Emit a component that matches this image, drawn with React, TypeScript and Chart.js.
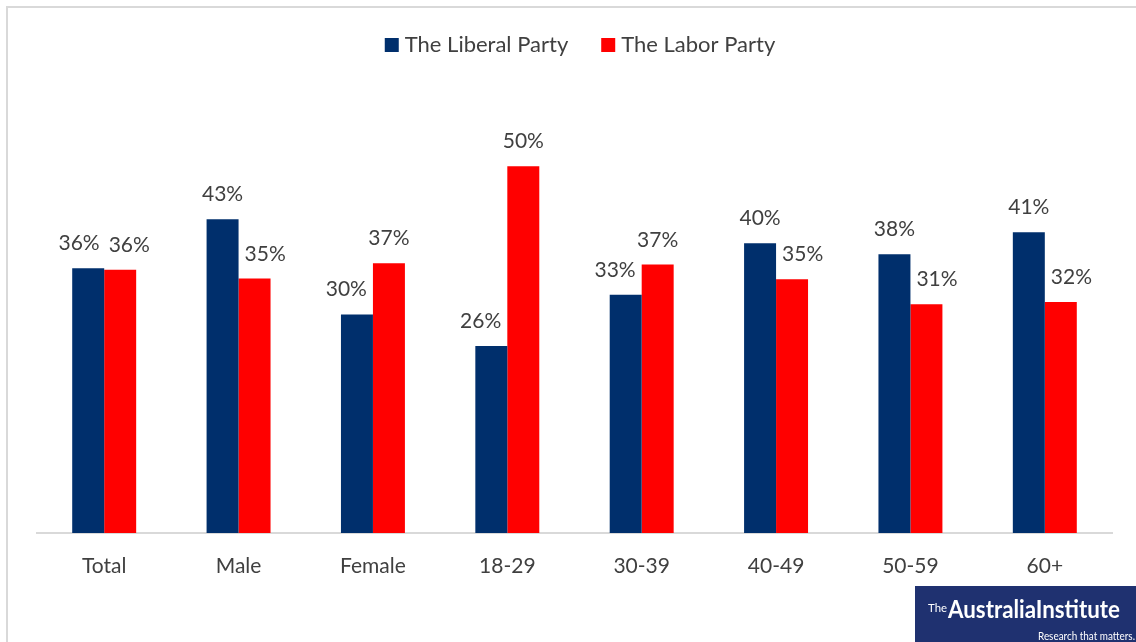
import React, { useEffect, useRef } from "react";
import { Chart, registerables } from "chart.js";

Chart.register(...registerables);

const categories = ["Total", "Male", "Female", "18-29", "30-39", "40-49", "50-59", "60+"];
const liberal = [36.1, 42.8, 29.8, 25.5, 32.5, 39.5, 38.0, 41.0];
const labor = [35.9, 34.7, 36.8, 50.0, 36.6, 34.6, 31.2, 31.5];
const seriesNames = ["The Liberal Party", "The Labor Party"];
const seriesColors = ["#002F6C", "#FF0000"];

const TEXT = "#404040";
const FONT = "Lato, 'Open Sans', sans-serif";

const framePlugin = {
  id: "frame",
  beforeDraw(chart: any) {
    const ctx = chart.ctx;
    ctx.save();
    ctx.fillStyle = "#ffffff";
    ctx.fillRect(0, 0, chart.width, chart.height);
    ctx.strokeStyle = "#D9D9D9";
    ctx.lineWidth = 2;
    ctx.beginPath();
    ctx.moveTo(7, chart.height);
    ctx.lineTo(7, 7);
    ctx.lineTo(chart.width, 7);
    ctx.stroke();
    ctx.restore();
  },
};

const legendPlugin = {
  id: "customLegend",
  afterDraw(chart: any) {
    const ctx = chart.ctx;
    ctx.save();
    ctx.font = `22px ${FONT}`;
    ctx.textBaseline = "middle";
    const box = 14;
    const gapBoxText = 6;
    const gapItems = 33;
    const widths = seriesNames.map((n) => ctx.measureText(n).width);
    const total = widths.reduce((a, w) => a + box + gapBoxText + w, 0) + gapItems * (seriesNames.length - 1);
    let x = chart.width / 2 + 12 - total / 2;
    const y = 45;
    seriesNames.forEach((n, i) => {
      ctx.fillStyle = seriesColors[i];
      ctx.fillRect(x, y - box / 2, box, box);
      x += box + gapBoxText;
      ctx.fillStyle = TEXT;
      ctx.fillText(n, x, y);
      x += widths[i] + gapItems;
    });
    ctx.restore();
  },
};

const labelPlugin = {
  id: "valueLabels",
  afterDatasetsDraw(chart: any) {
    const ctx = chart.ctx;
    ctx.save();
    ctx.font = `21px ${FONT}`;
    ctx.fillStyle = TEXT;
    ctx.textAlign = "center";
    ctx.textBaseline = "alphabetic";
    const n = chart.data.labels.length;
    const metas = chart.data.datasets.map((_: any, i: number) => chart.getDatasetMeta(i));
    for (let c = 0; c < n; c++) {
      const bars = metas.map((m: any) => m.data[c]);
      const items = bars.map((el: any, i: number) => {
        const text = Math.round(chart.data.datasets[i].data[c]) + "%";
        const w = ctx.measureText(text).width;
        return { x: el.x, y: el.y - 18, w, text };
      });
      // keep labels clear of taller neighbouring bars
      items.forEach((it: any, i: number) => {
        bars.forEach((b: any, j: number) => {
          if (j === i) return;
          if (b.y >= it.y) return;
          const half = b.width / 2;
          const left = b.x - half;
          const right = b.x + half;
          const gap = 6;
          if (j > i && it.x + it.w / 2 > left - gap) it.x = left - gap - it.w / 2;
          if (j < i && it.x - it.w / 2 < right + gap) it.x = right + gap + it.w / 2;
        });
      });
      // keep labels clear of each other
      for (let k = 0; k < items.length - 1; k++) {
        const a = items[k];
        const b = items[k + 1];
        if (Math.abs(a.y - b.y) < 20) {
          const need = (a.w + b.w) / 2 + 9;
          const have = b.x - a.x;
          if (have < need) {
            const d = (need - have) / 2;
            a.x -= d;
            b.x += d;
          }
        }
      }
      items.forEach((it: any) => ctx.fillText(it.text, it.x, it.y));
    }
    ctx.restore();
  },
};

const logoPlugin = {
  id: "logo",
  afterDraw(chart: any) {
    const ctx = chart.ctx;
    const x0 = 915, y0 = 586, w = chart.width - 915, h = chart.height - 586;
    ctx.save();
    ctx.fillStyle = "#1F3170";
    ctx.fillRect(x0, y0, w, h);
    ctx.fillStyle = "#ffffff";
    ctx.textBaseline = "alphabetic";
    const fit = (text: string, font: string, x: number, y: number, width: number) => {
      ctx.font = font;
      const m = ctx.measureText(text).width;
      ctx.save();
      ctx.translate(x, y);
      ctx.scale(width / m, 1);
      ctx.fillText(text, 0, 0);
      ctx.restore();
    };
    fit("The", `12px ${FONT}`, 928, 612, 19);
    fit("AustraliaInstitute", `bold 25px ${FONT}`, 948, 618, 172);
    fit("Research that matters.", `11px ${FONT}`, 1038, 640, 97);
    ctx.restore();
  },
};

export default function App() {
  const ref = useRef<HTMLCanvasElement>(null);
  useEffect(() => {
    if (!ref.current) return;
    const chart = new Chart(ref.current, {
      type: "bar",
      data: {
        labels: categories,
        datasets: [
          { label: seriesNames[0], data: liberal, backgroundColor: seriesColors[0] },
          { label: seriesNames[1], data: labor, backgroundColor: seriesColors[1] },
        ],
      },
      options: {
        responsive: false,
        animation: false,
        devicePixelRatio: 1,
        layout: { padding: { top: 93, left: 37, right: 24, bottom: 0 } },
        datasets: { bar: { categoryPercentage: 0.476, barPercentage: 1 } },
        plugins: { legend: { display: false }, tooltip: { enabled: false } },
        scales: {
          y: { display: false, min: 0, max: 60 },
          x: {
            grid: { display: false, drawTicks: false },
            border: { display: true, color: "#D9D9D9", width: 2 },
            ticks: { color: TEXT, font: { family: FONT, size: 21 }, padding: 21 },
            afterFit: (s: any) => {
              s.height = 109;
            },
          },
        },
      } as any,
      plugins: [framePlugin, legendPlugin, labelPlugin, logoPlugin],
    });
    return () => chart.destroy();
  }, []);
  return (
    <div style={{ position: "fixed", left: 0, top: 0, width: 1136, height: 642 }}>
      <canvas ref={ref} width={1136} height={642} style={{ display: "block" }} />
    </div>
  );
}
